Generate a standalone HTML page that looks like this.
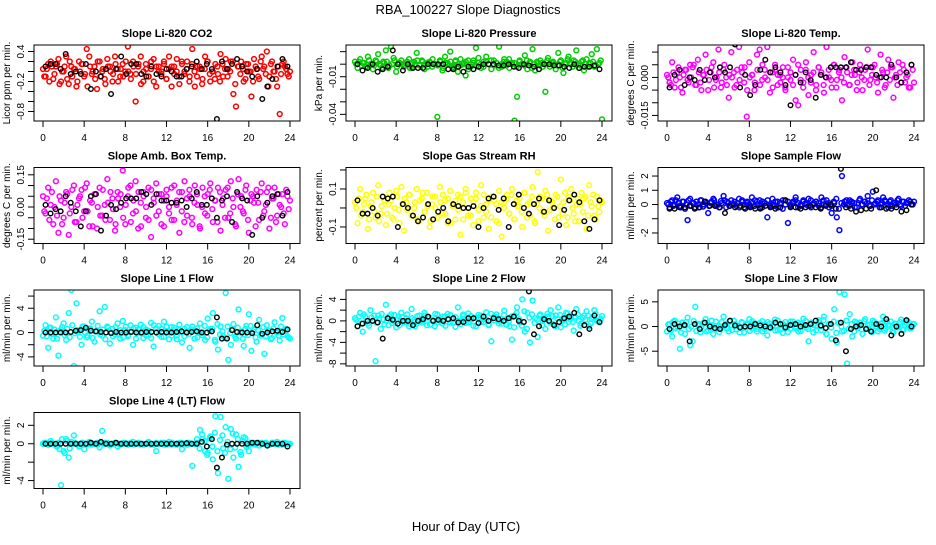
<!DOCTYPE html>
<html><head><meta charset="utf-8"><style>
html,body{margin:0;padding:0;background:#fff}
svg text{font-family:"Liberation Sans",sans-serif}
</style></head><body>
<svg id="chart" width="936" height="540" viewBox="0 0 936 540" xmlns="http://www.w3.org/2000/svg">
<rect width="936" height="540" fill="#fff"/>
<text x="468" y="14" text-anchor="middle" font-size="13">RBA_100227  Slope Diagnostics</text>
<text x="466" y="531" text-anchor="middle" font-size="13">Hour of Day (UTC)</text>
<g id="panels"></g>
</svg>
<script>
const xTicks=[0,4,8,12,16,20,24];
const titles=["Slope Li-820 CO2","Slope Li-820 Pressure","Slope Li-820 Temp.","Slope Amb. Box Temp.","Slope Gas Stream RH","Slope Sample Flow","Slope Line 1 Flow","Slope Line 2 Flow","Slope Line 3 Flow","Slope Line 4 (LT) Flow"];
const yTitles=["Licor ppm per min.","kPa per min.","degrees C per min.","degrees C per min.","percent per min.","ml/min per min.","ml/min per min.","ml/min per min.","ml/min per min.","ml/min per min."];
const colors=["#ff0000","#00cc00","#ff00ff","#ff00ff","#ffff00","#0000ff","#00ffff","#00ffff","#00ffff","#00ffff"];
const yDomains=[[-0.99,0.53],[-0.0453,0.0153],[-0.0172,0.0128],[-0.17,0.184],[-0.187,0.213],[-2.74,2.6],[-5.5,7.0],[-8.4,5.75],[-8.0,7.4],[-4.86,3.39]];
const yTickVals=[[-0.8,-0.6,-0.4,-0.2,0,0.2,0.4],[-0.04,-0.03,-0.02,-0.01,0,0.01],[-0.015,-0.01,-0.005,0,0.005,0.01],[-0.15,-0.1,-0.05,0,0.05,0.1,0.15],[-0.1,0,0.1,0.2],[-2,-1,0,1,2],[-4,-2,0,2,4,6],[-8,-6,-4,-2,0,2,4],[-5,0,5],[-4,-2,0,2]];
const yTickLabels=[["-0.8","","","-0.2","","","0.4"],["-0.04","","","-0.01","",""],["-0.015","","","0.000","",""],["-0.15","","","0.00","","","0.15"],["-0.1","","0.1",""],["-2","","0","1","2"],["-4","","0","","4",""],["-8","","-4","","0","","4"],["-5","0","5"],["-4","","0","2"]];

const co2C=[0.05,-0.1,0.15,0.2,-0.15,0.1,0.25,-0.2,0.0,0.3,-0.25,0.1,0.05,-0.3,0.2,0.15,-0.1,0.45,0.3,-0.05,0.1,-0.35,0.2,0.0,-0.15,0.25,0.1,-0.2,0.3,0.05,-0.1,0.15,0.0,0.5,-0.05,0.2,-0.6,0.1,0.3,-0.2,0.15,-0.1,0.05,0.25,-0.3,0.1,0.0,0.2,-0.15,0.3,0.1,-0.05,0.25,-0.25,0.15,0.0,0.2,-0.1,0.45,-0.3,0.1,0.05,-0.15,0.3,0.2,-0.2,0.0,0.15,-0.05,0.35,-0.1,0.25,0.05,0.2,-0.45,-0.7,0.1,0.2,-0.2,0.15,0.0,-0.5,0.25,0.05,-0.15,0.3,0.1,0.4,-0.1,0.2,0.0,-0.3,-0.85,0.15,0.1,-0.05,0.0];
const co2B=[-0.1,0.05,-0.2,0.1,-0.05,0.15,-0.25,0.0,0.1,-0.15,0.2,-0.1,0.05,-0.2,0.0,0.15,-0.05,-0.3,0.1,0.0,-0.15,0.2,-0.1,0.05,-0.25,0.1,0.0,-0.05,0.15,-0.2,0.05,-0.1,0.2,0.0,-0.15,0.1,-0.05,0.15,-0.25,0.0,0.05,-0.1,0.2,-0.2,0.1,0.0,-0.05,0.15,-0.15,0.05,-0.3,0.1,0.0,-0.1,0.2,-0.05,0.05,-0.2,0.15,0.0,-0.1,0.1,-0.25,0.05,0.2,-0.05,0.0,-0.15,0.1,-0.2,0.15,0.05,-0.1,0.0,0.2,-0.25,0.1,-0.05,0.05,-0.15,0.15,0.0,-0.2,0.1,-0.1,0.2,0.05,-0.05,-0.3,0.15,0.0,-0.15,0.1,-0.05,0.2,0.05,-0.1];
const co2K=[0.1,0.15,0.15,0.05,0.35,-0.05,0.0,-0.05,0.15,-0.35,0.0,-0.1,0.05,-0.45,0.05,0.3,-0.05,0.15,0.15,-0.05,-0.1,0.1,-0.05,-0.1,0.05,0.0,-0.1,-0.1,0.05,0.1,0.2,0.05,0.15,0.05,-0.95,0.2,0.05,0.15,0.25,0.1,0.0,-0.1,0.05,-0.55,-0.3,-0.15,0.1,0.25,0.1];
const presC=[0.002,-0.003,0.004,0.001,-0.002,0.006,0.0,-0.004,0.003,0.008,-0.001,0.002,0.011,-0.003,0.014,0.005,-0.006,0.001,0.003,-0.002,0.0,0.004,-0.003,0.002,0.009,-0.001,0.003,-0.004,0.001,0.002,-0.002,0.0,-0.042,0.003,-0.005,0.006,0.001,0.010,-0.003,0.002,-0.006,0.004,0.0,-0.009,0.003,-0.002,0.001,0.013,0.005,-0.003,0.002,0.006,0.0,-0.004,0.003,0.001,0.014,-0.002,0.004,0.002,-0.003,0.001,-0.045,-0.026,0.003,0.0,0.007,-0.004,0.002,0.012,-0.005,0.001,0.003,-0.002,-0.022,0.005,0.0,0.002,-0.004,0.009,0.003,-0.007,0.001,0.006,0.0,0.003,0.011,-0.003,0.002,-0.005,0.004,0.0,0.008,-0.002,0.012,0.001,-0.044];
const presB=[0.0,0.002,-0.001,0.001,-0.002,0.003,0.0,-0.001,0.002,0.0,-0.003,0.001,0.002,-0.001,0.0,0.003,-0.002,0.001,0.0,-0.001,0.002,-0.003,0.001,0.0,0.003,-0.001,0.002,0.0,-0.002,0.001,0.004,0.0,-0.001,0.002,-0.003,0.001,0.0,0.002,-0.002,0.003,0.0,-0.001,0.001,0.002,-0.004,0.0,0.003,-0.001,0.001,0.0,-0.002,0.002,0.0,0.003,-0.001,0.001,-0.003,0.0,0.002,-0.001,0.004,0.0,0.001,-0.002,0.002,0.0,-0.001,0.003,0.001,-0.003,0.0,0.002,-0.001,0.001,0.0,0.003,-0.002,0.001,0.0,-0.001,0.002,-0.003,0.0,0.004,0.001,-0.002,0.002,0.0,-0.001,0.003,0.0,-0.002,0.001,0.002,-0.001,0.0,0.003];
const presK=[0.0,-0.005,-0.003,0.0,-0.006,-0.004,-0.002,0.011,0.0,-0.005,0.0,-0.003,-0.003,-0.003,0.0,0.0,0.0,0.0,-0.004,-0.004,-0.002,-0.006,-0.002,-0.004,-0.002,0.0,0.0,0.0,-0.001,-0.001,0.0,-0.002,-0.003,0.0,-0.001,-0.002,-0.004,0.0,0.0,-0.001,-0.001,-0.002,-0.003,0.0,-0.003,-0.002,-0.002,-0.001,-0.004];
const tempC=[0.001,-0.002,0.006,-0.004,0.002,0.0,-0.006,0.003,-0.001,0.005,0.004,-0.003,0.007,-0.002,0.001,0.009,-0.005,0.002,0.006,-0.001,0.011,-0.004,0.003,0.0,-0.008,0.010,0.002,-0.003,0.012,0.004,-0.002,-0.0155,0.006,0.001,-0.005,0.009,0.011,-0.001,0.003,0.012,-0.006,0.002,0.005,-0.003,0.001,0.0,-0.004,0.004,-0.001,0.007,-0.009,-0.011,0.003,-0.002,0.006,-0.007,0.001,0.010,-0.003,0.004,0.002,-0.006,0.012,0.0,-0.004,0.005,-0.001,0.003,-0.009,0.008,0.002,-0.003,0.006,0.001,-0.002,0.005,-0.005,0.003,0.011,-0.001,0.004,0.0,-0.006,0.009,0.002,-0.003,0.007,0.004,-0.008,0.001,0.006,-0.002,0.003,0.0,-0.004,0.005,-0.002];
const tempB=[0.0,-0.003,0.002,-0.001,0.004,-0.004,0.001,0.003,-0.002,0.0,0.005,-0.003,0.002,-0.005,0.001,0.003,-0.001,0.004,-0.004,0.0,0.002,-0.002,0.005,-0.003,0.001,0.0,-0.004,0.003,-0.001,0.002,0.004,-0.005,0.0,0.001,-0.002,0.003,-0.003,0.005,0.0,-0.001,0.002,-0.004,0.003,0.001,-0.002,0.004,-0.005,0.0,0.002,-0.003,0.001,0.005,-0.001,-0.004,0.003,0.0,-0.002,0.002,-0.005,0.004,0.001,-0.003,0.0,0.003,-0.001,0.005,-0.004,0.002,0.0,-0.002,0.004,-0.003,0.001,0.003,-0.005,0.002,0.0,-0.001,0.004,-0.003,0.001,0.005,-0.002,0.0,0.003,-0.004,0.002,-0.001,0.004,0.0,-0.003,0.002,0.005,-0.002,0.001,-0.004,0.003];
const tempK=[-0.004,0.001,0.003,-0.003,0.0,-0.001,0.003,-0.001,0.002,0.0,0.004,0.002,0.004,0.013,-0.004,0.001,-0.007,-0.003,0.003,0.007,0.002,0.004,0.002,-0.003,-0.011,0.001,-0.002,0.002,-0.001,-0.008,0.001,0.0,0.004,0.004,0.004,0.004,0.006,0.003,0.003,0.004,0.004,0.001,0.0,0.0,0.005,0.0,-0.002,0.002,0.005];
const ambC=[0.05,-0.03,0.09,0.01,-0.08,0.12,-0.12,0.03,-0.05,0.07,-0.13,0.0,0.1,-0.07,0.04,0.08,-0.02,0.11,-0.09,0.02,0.06,-0.1,0.09,-0.04,0.01,0.13,-0.06,0.04,-0.11,0.07,0.0,0.17,-0.08,0.05,0.1,-0.03,0.12,-0.1,0.02,0.07,-0.05,0.09,-0.14,0.04,0.11,-0.02,0.06,-0.09,0.08,0.0,-0.06,0.1,0.03,-0.12,0.07,0.12,-0.04,0.05,-0.08,0.1,0.01,-0.1,0.09,-0.03,0.06,0.11,-0.07,0.03,0.09,-0.11,0.04,0.08,-0.05,0.12,0.0,-0.09,0.13,0.05,-0.03,0.1,-0.12,0.06,0.02,0.08,-0.06,0.11,-0.02,0.07,-0.1,0.04,0.09,-0.04,0.01,0.06,-0.08,0.05,0.03];
const ambB=[-0.02,0.04,-0.06,0.07,0.0,-0.04,0.05,-0.08,0.02,0.06,-0.03,0.08,-0.07,0.01,0.05,-0.05,0.09,-0.02,0.03,-0.09,0.06,0.0,-0.04,0.08,-0.06,0.02,0.07,-0.01,-0.08,0.04,0.06,-0.05,0.01,0.09,-0.07,0.03,-0.02,0.07,-0.09,0.05,0.0,-0.06,0.08,0.02,-0.04,0.06,-0.08,0.03,0.05,-0.03,0.09,-0.06,0.01,0.07,-0.02,-0.07,0.04,0.08,-0.05,0.02,0.06,-0.09,0.0,0.05,-0.04,0.08,-0.01,0.03,-0.07,0.07,0.01,-0.05,0.09,-0.03,0.04,-0.08,0.06,0.0,-0.02,0.08,-0.06,0.03,0.05,-0.09,0.02,0.07,-0.04,0.01,0.09,-0.05,0.04,-0.07,0.06,0.0,-0.03,0.08,-0.01];
const ambK=[0.01,-0.03,-0.01,-0.02,0.05,0.02,-0.02,-0.09,-0.02,0.05,0.06,-0.11,-0.04,0.01,-0.01,0.02,0.04,0.04,0.04,0.07,0.06,0.01,0.06,0.03,0.03,0.02,0.02,0.03,0.0,0.04,0.07,0.01,0.01,0.04,-0.05,0.03,0.05,-0.07,0.07,0.04,0.03,-0.13,0.05,-0.05,0.02,0.05,0.06,-0.04,0.07];
const rhC=[0.03,-0.08,0.1,-0.02,0.05,-0.11,0.01,0.08,-0.05,0.12,-0.03,0.06,-0.09,0.02,0.04,-0.06,0.09,-0.01,0.11,-0.12,0.03,0.07,-0.04,0.0,0.1,-0.07,0.05,-0.02,0.08,-0.1,0.02,0.06,-0.05,0.11,-0.03,0.04,-0.08,0.09,0.01,-0.06,0.07,-0.14,0.03,0.1,-0.04,0.05,-0.09,0.08,-0.01,0.12,-0.05,0.02,-0.11,0.06,0.04,-0.07,0.09,-0.15,0.03,0.07,-0.03,0.1,-0.06,0.01,0.05,-0.1,0.08,0.02,-0.04,0.11,-0.08,0.19,0.06,-0.02,0.09,-0.12,0.04,0.0,0.07,-0.05,0.15,0.03,-0.09,0.06,0.1,-0.03,0.02,-0.07,0.08,0.05,-0.11,0.12,0.01,-0.04,0.06,-0.02,0.03];
const rhB=[0.0,0.05,-0.04,0.02,0.07,-0.06,0.03,-0.02,0.06,-0.07,0.01,0.04,-0.03,0.08,-0.05,0.0,0.06,-0.08,0.02,0.05,-0.01,0.07,-0.04,0.03,-0.06,0.04,0.08,-0.02,0.01,-0.07,0.06,0.0,-0.05,0.03,0.07,-0.03,0.05,-0.08,0.02,0.04,-0.01,0.06,-0.06,0.08,0.0,-0.04,0.03,0.05,-0.07,0.01,0.07,-0.02,0.04,-0.05,0.06,0.02,-0.08,0.03,0.0,0.05,-0.03,0.07,-0.06,0.04,0.01,-0.02,0.08,-0.05,0.03,0.06,-0.07,0.02,0.0,0.05,-0.04,0.07,-0.01,0.03,-0.06,0.06,0.01,-0.03,0.08,-0.05,0.04,0.0,-0.07,0.05,0.02,-0.02,0.06,-0.04,0.03,0.07,-0.06,0.01,0.04];
const rhK=[0.04,-0.03,-0.03,0.0,-0.04,0.06,0.05,0.06,-0.1,0.02,0.0,-0.04,-0.07,-0.05,0.02,-0.06,-0.02,0.0,-0.07,0.02,0.01,0.0,0.0,0.01,-0.1,0.0,0.05,0.06,-0.01,0.05,-0.1,0.02,0.07,0.0,-0.03,0.02,0.05,-0.02,0.04,0.0,-0.09,-0.01,0.04,0.07,0.03,-0.07,-0.11,-0.06,0.04];
const sfC=[0.1,-0.2,0.3,0.0,0.5,-0.1,0.2,-0.3,-1.1,0.4,0.1,-0.2,0.0,0.3,-0.15,0.2,-0.6,0.1,0.4,-0.1,0.0,0.25,0.6,-0.2,0.1,0.3,0.0,-0.1,0.4,0.2,-0.2,0.1,0.0,0.5,-0.1,0.2,0.3,-0.2,0.1,-0.9,0.0,0.4,-0.1,0.2,0.1,-0.3,0.3,-1.3,0.0,0.2,0.5,0.1,-0.1,0.3,0.0,0.4,-0.2,0.1,0.2,-0.1,0.5,0.0,0.3,-0.2,-0.6,0.1,-0.9,-1.8,2.0,0.2,0.0,0.3,0.1,-0.2,-3.1,0.4,0.0,0.2,0.6,-0.1,0.9,0.1,0.3,0.0,0.5,0.2,-0.2,0.3,0.1,0.0,0.4,-0.1,0.2,0.1,0.3,0.0,0.2];
const sfB=[0.0,0.2,-0.1,0.3,0.1,-0.2,0.2,0.0,0.3,-0.1,0.1,0.2,-0.2,0.3,0.0,0.1,-0.1,0.2,0.3,0.0,-0.2,0.1,0.3,0.2,-0.1,0.0,0.2,0.1,-0.2,0.3,0.0,0.2,-0.1,0.1,0.3,0.0,-0.2,0.2,0.1,0.3,-0.1,0.0,0.2,-0.2,0.1,0.3,0.0,0.2,-0.1,0.1,0.3,-0.2,0.0,0.2,0.1,-0.1,0.3,0.0,0.2,0.1,-0.2,0.3,0.0,0.1,-0.1,0.2,0.4,-0.3,0.1,0.0,0.3,-0.1,0.2,0.1,-0.2,0.3,0.0,0.2,0.1,-0.1,0.3,0.0,0.2,-0.2,0.1,0.3,0.0,0.2,-0.1,0.1,0.3,0.0,0.2,-0.1,0.1,0.2,0.0];
const sfK=[-0.3,-0.3,-0.2,-0.2,-0.1,-0.3,-0.2,0.2,-0.1,-0.1,-0.2,-0.6,-0.1,-0.2,-0.1,-0.3,-0.2,-0.3,-0.3,-0.1,-0.2,-0.3,-0.2,0.3,-0.2,-0.2,-0.3,-0.2,-0.1,-0.2,-0.3,-0.1,0.0,-0.3,2.5,-0.2,-0.3,-0.5,-0.4,-0.3,-0.3,1.0,-0.2,-0.3,-0.3,-0.2,-0.5,-0.4,0.0];
const l1C=[-0.5,1.2,-2.5,0.8,-1.0,2.5,-3.8,0.5,1.5,-1.2,3.2,7.0,-5.5,4.8,0.3,-2.0,1.0,-0.8,0.5,1.8,-1.5,0.2,3.5,-0.5,4.2,1.0,-1.8,0.6,-0.3,1.5,-1.0,1.9,0.4,-0.6,1.2,-2.0,0.8,0.0,1.3,-0.9,0.5,-0.4,1.6,-2.3,0.7,1.1,-0.7,1.8,0.2,-1.1,0.9,0.4,-0.5,1.3,-1.6,0.6,0.1,-2.5,1.0,0.3,-0.8,1.5,0.0,-1.2,2.3,0.6,3.2,-1.5,-2.8,1.0,-0.6,6.5,-4.5,-2.0,1.4,-1.0,3.8,0.2,-2.2,1.1,3.0,-3.0,0.5,-1.5,2.1,-0.5,-3.5,1.2,0.3,-0.9,1.7,0.0,-1.3,2.4,0.5,-0.6,-1.0];
const l1B=[0.3,-0.6,0.8,-0.2,0.5,-1.0,0.1,0.9,-0.4,0.6,-0.8,1.2,-0.1,0.4,-0.7,1.0,0.0,-0.5,0.7,-0.9,0.2,1.1,-0.3,0.5,-1.1,0.8,0.1,-0.6,0.9,-0.2,0.4,-0.8,1.0,-0.4,0.2,0.7,-1.0,0.5,-0.1,0.9,-0.5,0.3,-0.9,1.2,0.0,-0.3,0.6,-0.7,1.0,0.2,-0.5,0.8,-1.1,0.4,0.1,-0.6,0.9,-0.2,0.5,-1.0,0.7,0.0,-0.4,1.1,-0.8,0.3,0.6,-1.2,1.4,-0.3,0.2,-0.9,1.0,-0.1,0.5,-0.7,0.8,0.0,-1.0,0.6,-0.4,1.1,0.2,-0.8,0.4,-0.2,0.9,-0.6,0.3,-1.1,0.7,0.1,-0.5,1.0,-0.3,0.6,-0.8];
const l1K=[0,0,0,0,0,0.1,0.3,0.4,0.8,0.3,0.2,0.1,0,-0.1,0.1,0,0,0.1,0,0,0.1,0.1,0,0.1,0,0,0.1,0.2,0,0.1,0.2,0,0,0.2,2.5,-1.0,-1.0,0.4,0.1,0,0,-0.1,1.2,-0.2,0,0.2,0.3,0.1,0.5];
const l2C=[0.5,-1.0,1.5,-2.0,0.8,-0.5,2.0,0.0,-7.5,1.0,-1.5,0.3,3.0,-0.8,1.2,0.0,-1.2,0.8,1.5,-0.3,0.5,-1.0,2.2,0.2,-0.5,1.0,0.0,1.5,-0.8,0.6,0.2,-1.0,1.2,0.0,-0.5,0.8,1.3,-0.3,0.5,-1.1,2.5,0.0,0.9,-0.4,1.4,0.2,-0.9,0.6,1.1,-0.2,0.3,1.6,-0.7,-3.8,0.8,1.2,0.0,-0.5,1.9,0.4,-1.0,-3.5,1.0,2.5,-0.3,4.0,-2.0,1.5,-4.0,3.8,0.5,-3.0,1.2,0.0,-1.5,0.8,2.0,-0.6,1.0,2.5,-1.2,0.3,1.5,-0.2,0.7,-1.8,2.2,0.0,-0.5,1.0,1.8,-1.0,0.4,2.0,0.0,-0.3,0.9];
const l2B=[0.2,0.8,-0.5,1.2,0.0,-0.9,0.6,1.0,-0.3,0.4,1.3,-0.7,0.1,0.9,-0.4,1.1,0.3,-0.8,0.7,0.0,1.2,-0.5,0.5,-1.0,0.9,0.2,-0.3,1.0,0.6,-0.7,0.0,1.3,-0.2,0.4,0.8,-0.9,0.3,1.1,-0.4,0.7,0.0,-0.6,1.2,0.2,-0.3,0.9,0.5,-1.0,0.6,1.0,-0.2,0.3,-0.8,1.3,0.1,0.7,-0.5,0.4,1.1,-0.7,0.0,0.8,-1.2,1.5,0.3,-0.9,1.8,-1.5,0.6,1.2,-0.4,0.2,1.0,-0.8,0.5,1.3,-0.3,0.9,-1.0,0.4,1.1,0.0,-0.6,1.4,0.3,-0.2,0.8,1.2,-0.9,0.6,0.2,1.0,-0.5,0.7,1.3,0.0,0.4];
const l2K=[-1.0,-0.5,0.0,0.0,-0.3,-3.3,0.5,0.2,-0.5,0.0,0.0,-0.8,0.0,0.3,0.8,0.0,0.2,0.0,0.3,0.5,-0.3,-0.2,0.5,0.5,-0.4,0.8,0.0,0.5,0.3,0.0,0.5,0.8,0.0,-0.2,5.5,-2.5,-1.0,0.3,0.0,-0.8,-0.2,0.5,0.8,1.5,-2.5,-0.8,-1.5,1.0,-0.2];
const l3C=[-1.0,0.5,-2.0,1.2,0.0,-4.5,0.8,-1.5,1.8,-3.8,-3.0,4.0,0.3,-1.2,0.6,1.5,-0.8,0.2,-1.5,1.0,0.0,-0.4,2.0,0.5,-1.0,0.3,1.2,-0.6,0.0,0.9,-1.2,0.4,1.5,-0.3,0.7,-1.0,0.2,1.1,-0.5,-1.8,0.6,0.0,1.4,-0.7,0.3,-1.3,0.9,0.1,-0.4,1.0,0.0,-1.0,0.5,1.6,-0.2,-3.0,0.8,0.3,-0.8,1.3,0.0,2.0,-1.5,0.5,-2.5,3.5,-3.2,7.0,-1.0,6.5,-7.5,2.5,-2.0,1.0,-0.3,0.8,-1.5,1.5,0.2,-0.8,1.2,0.0,-1.0,0.6,2.0,-0.4,0.3,1.0,-1.2,0.5,0.0,1.4,-0.6,0.8,0.2,-0.3,0.5];
const l3B=[0.4,-0.8,1.0,-0.3,0.6,-1.2,0.2,0.9,-0.5,0.0,1.1,-0.9,0.5,-0.2,0.8,-1.0,0.3,1.2,-0.6,0.1,-1.1,0.9,0.0,-0.4,1.0,-0.7,0.5,0.2,-1.2,0.8,-0.1,0.6,-0.9,1.1,0.0,-0.5,0.7,-1.0,0.4,0.9,-0.3,0.2,-0.8,1.2,-0.6,0.5,0.0,-1.1,1.0,0.3,-0.4,0.8,-0.9,0.1,1.1,-0.5,0.6,-1.2,0.2,0.9,-0.7,1.3,-1.5,0.4,-0.2,1.0,-1.3,0.7,0.0,-0.9,1.2,-0.4,0.5,-1.0,0.8,0.1,-0.6,1.1,-0.3,0.4,-1.1,0.9,0.0,-0.5,0.7,-0.8,1.0,0.2,-1.0,0.6,-0.2,0.9,-0.7,0.3,1.1,-0.4,0.5];
const l3K=[-0.5,0.5,0.0,0.3,-3.0,0.5,-0.5,0.8,0.0,-0.3,-0.5,0.3,1.2,0.2,-0.2,0.0,0.0,0.5,0.2,0.0,-0.2,0.8,0.5,-0.2,0.3,0.5,0.0,0.3,0.5,1.2,0.2,-0.3,0.5,-2.8,0.8,-5.0,-0.5,0.0,0.3,-0.5,-1.0,0.5,0.0,1.5,-1.8,0.0,-1.5,1.3,0.0];
const l4C=[0.0,0.1,-0.1,0.3,0.0,-0.2,0.1,-4.5,-0.8,0.5,-1.5,0.2,0.9,0.0,-0.3,0.1,-0.6,0.0,0.2,-0.1,0.0,0.1,-0.4,1.4,0.0,0.1,-0.2,0.0,0.1,-0.3,0.0,0.0,0.1,-0.1,0.0,0.2,0.0,0.1,-0.1,0.0,0.0,0.2,-0.1,0.0,-0.8,0.0,0.1,-0.1,0.0,0.2,-0.1,0.0,0.0,0.1,-0.6,0.0,0.1,0.0,-2.4,0.0,0.1,1.5,0.5,-0.8,-1.0,0.8,-1.7,3.0,-3.2,2.9,-0.5,1.8,-3.8,1.6,-1.5,1.0,-2.5,-1.2,0.7,-0.3,-0.8,0.0,0.1,0.0,-0.2,0.1,0.0,0.0,-0.1,0.1,0.0,0.2,0.0,-0.1,0.1,0.0,0.0];
const l4B=[0.1,0.0,-0.1,0.1,0.0,-0.3,-0.6,0.5,-1.0,0.3,-0.5,0.0,0.1,-0.1,0.0,0.1,0.0,-0.1,0.1,0.0,0.0,-0.1,0.1,0.0,0.1,0.0,-0.1,0.0,0.1,0.0,-0.1,0.1,0.0,0.0,0.1,-0.1,0.0,0.1,0.0,-0.1,0.0,0.1,0.0,-0.1,0.1,0.0,0.0,0.1,-0.1,0.0,0.1,0.0,-0.1,0.0,0.1,0.0,-0.1,0.1,0.0,0.0,0.5,-0.5,1.0,0.3,-1.2,0.6,-0.3,1.2,-0.8,0.4,0.9,-1.0,0.2,-0.6,1.1,-0.4,0.5,-0.9,0.3,0.6,-0.2,0.1,0.0,-0.1,0.1,0.0,0.0,0.1,-0.1,0.0,0.1,0.0,-0.1,0.0,0.1,0.0,0.0];
const l4K=[0,0,0,0,0,0,0,0,0,0.1,0,0.2,0,0,0.1,0,0,0,0,0,0,0,0,0,0,0,0,0,0.05,0,0,0.2,-0.3,0.5,-2.6,-1.5,-0.1,0,0,0,0,0.1,0.1,0,-0.2,0,0,0,-0.3];

const colorSeries=[co2C,presC,tempC,ambC,rhC,sfC,l1C,l2C,l3C,l4C];
const bandSeries=[co2B,presB,tempB,ambB,rhB,sfB,l1B,l2B,l3B,l4B];
const blackSeries=[co2K,presK,tempK,ambK,rhK,sfK,l1K,l2K,l3K,l4K];

const NS="http://www.w3.org/2000/svg";
const root=document.getElementById('panels');
function mk(tag,attrs,parent){const e=document.createElementNS(NS,tag);for(const k in attrs)e.setAttribute(k,attrs[k]);parent.appendChild(e);return e;}
const keys=["co2","pressure","temp","amb-box-temp","rh","sample-flow","line1-flow","line2-flow","line3-flow","line4-flow"];

for(let p=0;p<10;p++){
  const c=p%3,r=Math.floor(p/3);
  const L=34+312*c,T=45+122.5*r,W=266,H=76,B=T+H;
  const xs=h=>L+9+h*(247/24);
  const [y0,y1]=yDomains[p];
  const ys=v=>B-(v-y0)/(y1-y0)*H;
  const g=mk('g',{},root);
  
  
  const t=mk('text',{x:L+W/2,y:T-8,'text-anchor':'middle','font-size':'11','font-weight':'bold'},g);
  t.textContent=titles[p];
  
  
  const cid='clip'+p;
  const cp=mk('clipPath',{id:cid},g);mk('rect',{x:L,y:T,width:W,height:H},cp);
  const pg=mk('g',{'clip-path':'url(#'+cid+')'},g);
  const cs=colorSeries[p];
  cs.forEach((v,i)=>{
    const e=mk('circle',{cx:xs(i*24/(cs.length-1)),cy:ys(v),r:2.4,fill:'none',stroke:colors[p],'stroke-width':1.5},pg);
    
    
  });
  const bsd=bandSeries[p];
  bsd.forEach((v,i)=>{
    const e=mk('circle',{cx:xs((i+0.5)*24/bsd.length),cy:ys(v),r:2.4,fill:'none',stroke:colors[p],'stroke-width':1.5},pg);
    
    
  });
  const bs=blackSeries[p];
  bs.forEach((v,i)=>{
    const e=mk('circle',{cx:xs((i+0.5)*24/bs.length),cy:ys(v),r:2.3,fill:'none',stroke:'#000','stroke-width':1.4},pg);
    
    
  });
  const fr=mk('rect',{x:L,y:T,width:W,height:H,fill:'none',stroke:'#000','stroke-width':1},g);
  
  
  const xa=mk('g',{},g);
  
  
  xTicks.forEach(h=>{
    mk('line',{x1:xs(h),x2:xs(h),y1:B,y2:B+6,stroke:'#000'},xa);
    const tl=mk('text',{x:xs(h),y:B+20,'text-anchor':'middle','font-size':'10'},xa);
    tl.textContent=h;
  });
  const ya=mk('g',{},g);
  
  
  yTickVals[p].forEach((v,i)=>{
    const yy=ys(v);
    mk('line',{x1:L-6,x2:L,y1:yy,y2:yy,stroke:'#000'},ya);
    const lb=yTickLabels[p][i];
    if(lb){const tl=mk('text',{x:L-10,y:yy,'text-anchor':'middle','font-size':'10',transform:`rotate(-90 ${L-10} ${yy})`},ya);tl.textContent=lb;}
  });
  const yt=mk('text',{x:L-24,y:T+H/2,'text-anchor':'middle','font-size':'10',transform:`rotate(-90 ${L-24} ${T+H/2})`},g);
  yt.textContent=yTitles[p];
  
  
}
</script>
</body></html>
